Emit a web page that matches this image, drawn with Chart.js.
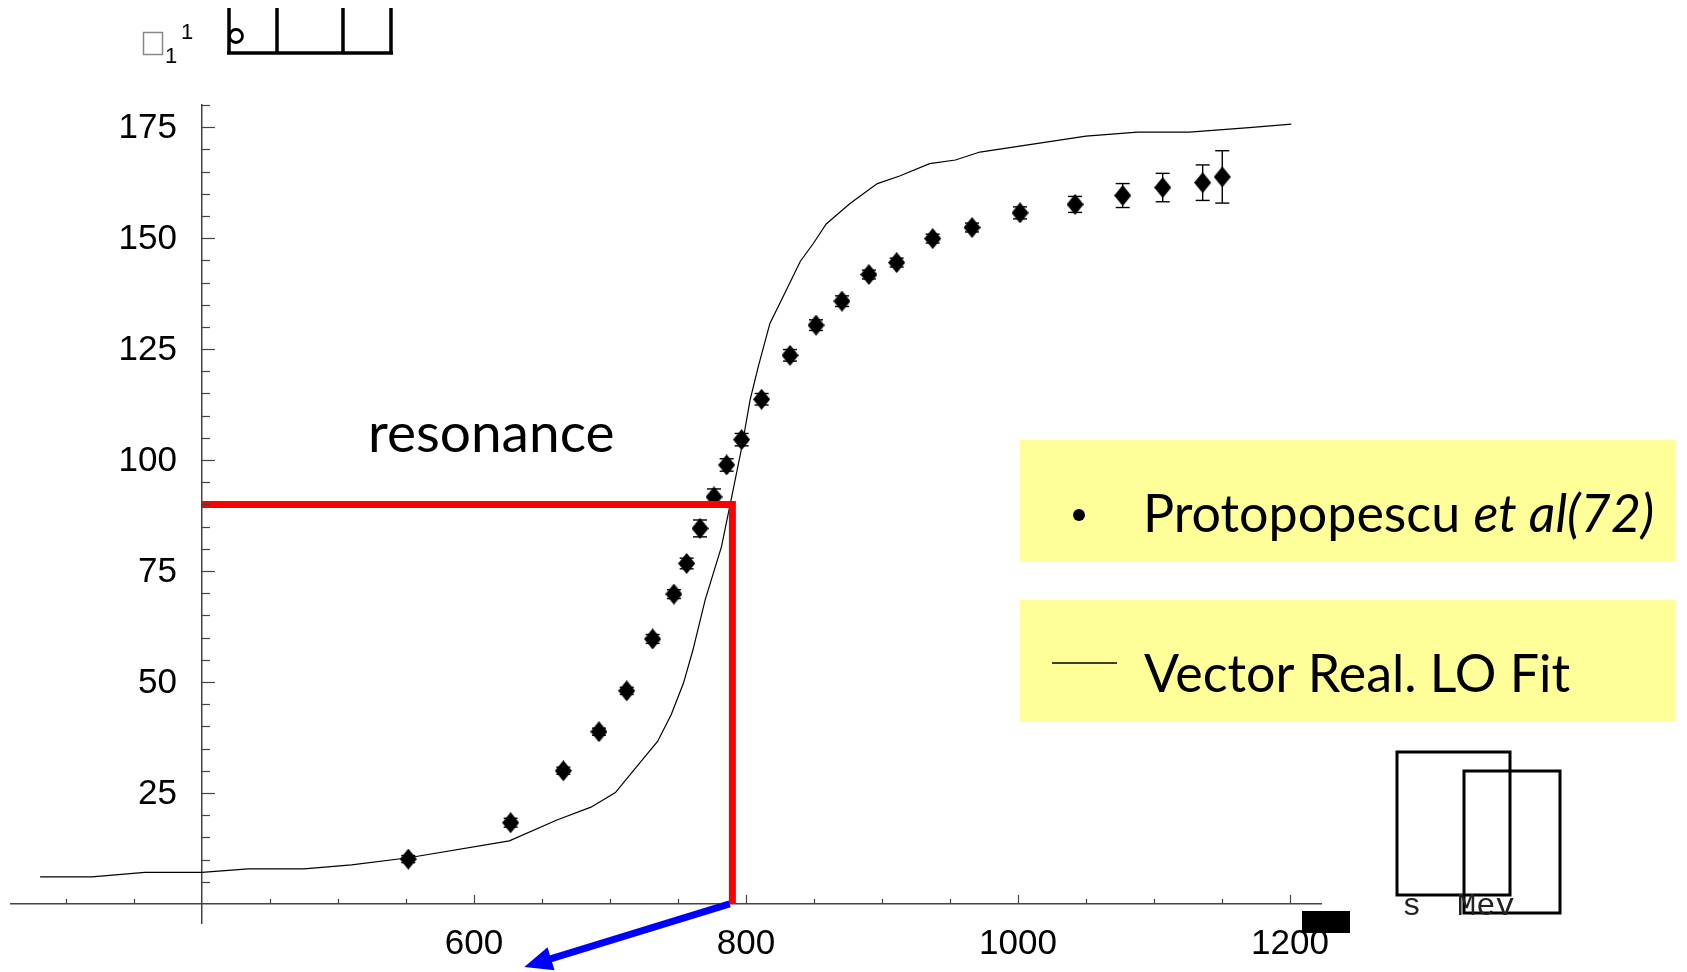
<!DOCTYPE html>
<html>
<head>
<meta charset="utf-8">
<script src="https://cdn.jsdelivr.net/npm/chart.js@4.4.1/dist/chart.umd.min.js"></script>
<style>
  html, body { margin: 0; padding: 0; background: #fff; }
  #wrap { position: relative; width: 1687px; height: 972px; overflow: hidden; }
</style>
</head>
<body>
<div id="wrap"><canvas id="phaseChart" width="1687" height="972"></canvas></div>
<script>
// measured points (Protopopescu et al 72)
const dataMass = [551.7, 627, 665.7, 691.9, 712.3, 731.4, 747, 756.4, 766.2, 776.5, 785.8, 796.8, 811.5,
  832.4, 851.5, 870.6, 890.4, 910.8, 937.3, 966.2, 1001.5, 1042, 1077, 1106.4, 1135.8, 1150.2];
const dataPhase = [10.1, 18.3, 30.0, 38.8, 48.0, 59.7, 69.8, 76.7, 84.6, 91.7, 98.9, 104.6, 113.7,
  123.6, 130.4, 135.8, 141.8, 144.5, 149.9, 152.4, 155.7, 157.6, 159.6, 161.4, 162.5, 163.8];
const dataError = [0.8, 1.0, 0.8, 0.8, 0.8, 1.0, 1.0, 1.2, 1.9, 1.8, 1.4, 1.4, 1.3,
  1.3, 1.2, 1.2, 1.0, 1.0, 1.0, 1.0, 1.35, 1.8, 2.7, 3.2, 4.0, 5.9];

// fit curve (Vector Real. LO Fit)
const fitMass = [281, 319, 358, 400, 434, 475, 510, 552, 626, 661, 686, 704, 718, 735, 745, 754, 761, 770,
  782, 789.5, 797, 803, 809, 817.6, 826, 840, 849.5, 859, 876.5, 896.6, 913, 935, 954, 972,
  1011, 1050, 1088, 1126, 1170, 1201];
const fitPhase = [6.1, 6.1, 7.1, 7.1, 7.9, 7.9, 8.8, 10.4, 14.2, 18.9, 21.8, 25.1, 30.3, 36.6, 42.6, 49.7, 57.2, 68.5,
  80.5, 91.7, 103, 113.5, 121, 130.8, 136, 144.8, 148.8, 153.2, 157.8, 162.3, 164, 166.8, 167.6, 169.4,
  171.2, 173, 173.9, 173.9, 174.9, 175.7];

// axes
const xLabelTicks = [600, 800, 1000, 1200];
const xMinorTicks = [300, 350, 450, 500, 550, 600, 650, 700, 750, 800, 850, 900, 950, 1000, 1050, 1100, 1150, 1200];
const yLabelTicks = [25, 50, 75, 100, 125, 150, 175];
const yMinorTicks = [5, 10, 15, 20, 25, 30, 35, 40, 45, 50, 55, 60, 65, 70, 75, 80, 85, 90, 95, 100,
  105, 110, 115, 120, 125, 130, 135, 140, 145, 150, 155, 160, 165, 170, 175, 180];

// annotations
const resonancePhase = 90;
const resonanceMass = 790;
const arrowFrom = [788, 0];
const arrowTo = [637, -14.2];

// diamond marker
const diamond = document.createElement('canvas');
diamond.width = 17;
diamond.height = 21;
const dctx = diamond.getContext('2d');
dctx.fillStyle = '#000';
dctx.beginPath();
dctx.moveTo(8.5, 0);
dctx.lineTo(17, 10.5);
dctx.lineTo(8.5, 21);
dctx.lineTo(0, 10.5);
dctx.closePath();
dctx.fill();

const tickFont = { family: 'Liberation Sans', size: 35 };

const line = (ctx, x1, y1, x2, y2) => {
  ctx.beginPath();
  ctx.moveTo(x1, y1);
  ctx.lineTo(x2, y2);
  ctx.stroke();
};

const errorBars = {
  id: 'errorBars',
  beforeDatasetsDraw(chart) {
    const { ctx, scales: { x, y } } = chart;
    ctx.save();
    ctx.strokeStyle = '#000';
    ctx.lineWidth = 1.4;
    dataMass.forEach((m, i) => {
      const px = x.getPixelForValue(m);
      const top = y.getPixelForValue(dataPhase[i] + dataError[i]);
      const bot = y.getPixelForValue(dataPhase[i] - dataError[i]);
      line(ctx, px, top, px, bot);
      line(ctx, px - 7, top, px + 7, top);
      line(ctx, px - 7, bot, px + 7, bot);
    });
    ctx.restore();
  }
};

// inward tick marks + y labels (axes cross at 400 / 0)
const axisTicks = {
  id: 'axisTicks',
  afterDraw(chart) {
    const { ctx, scales: { x, y } } = chart;
    const y0 = y.getPixelForValue(0);
    const x0 = x.getPixelForValue(400);
    ctx.save();
    ctx.strokeStyle = '#444';
    ctx.lineWidth = 1.2;
    xMinorTicks.forEach(v => {
      const px = Math.round(x.getPixelForValue(v)) + 0.5;
      const len = xLabelTicks.includes(v) ? 9 : 5;
      line(ctx, px, y0, px, y0 - len);
    });
    yMinorTicks.forEach(v => {
      const py = Math.round(y.getPixelForValue(v)) + 0.5;
      const len = yLabelTicks.includes(v) ? 13 : 8;
      line(ctx, x0, py, x0 + len, py);
    });
    ctx.fillStyle = '#000';
    ctx.font = `${tickFont.size}px "${tickFont.family}"`;
    ctx.textAlign = 'right';
    ctx.textBaseline = 'middle';
    yLabelTicks.forEach(v => {
      ctx.fillText(String(v), x0 - 25, y.getPixelForValue(v) + 1);
    });
    ctx.restore();
  }
};

const annotations = {
  id: 'annotations',
  afterDatasetsDraw(chart) {
    const { ctx, scales: { x, y } } = chart;
    ctx.save();
    // red lines
    ctx.strokeStyle = '#ff0000';
    ctx.lineWidth = 7;
    ctx.lineCap = 'butt';
    const ry = y.getPixelForValue(resonancePhase);
    const rx = x.getPixelForValue(resonanceMass);
    ctx.beginPath();
    ctx.moveTo(x.getPixelForValue(400), ry);
    ctx.lineTo(rx + 3.5, ry);
    ctx.moveTo(rx, ry);
    ctx.lineTo(rx, y.getPixelForValue(0));
    ctx.stroke();

    // blue arrow
    const ax1 = x.getPixelForValue(arrowFrom[0]), ay1 = y.getPixelForValue(arrowFrom[1]);
    const ax2 = x.getPixelForValue(arrowTo[0]), ay2 = y.getPixelForValue(arrowTo[1]);
    const ang = Math.atan2(ay2 - ay1, ax2 - ax1);
    const headLen = 28, headW = 12;
    const bx = ax2 - Math.cos(ang) * headLen, by = ay2 - Math.sin(ang) * headLen;
    ctx.strokeStyle = '#0000ff';
    ctx.fillStyle = '#0000ff';
    ctx.lineWidth = 7;
    line(ctx, ax1, ay1, bx + Math.cos(ang) * 4, by + Math.sin(ang) * 4);
    ctx.beginPath();
    ctx.moveTo(ax2, ay2);
    ctx.lineTo(bx + Math.sin(ang) * headW, by - Math.cos(ang) * headW);
    ctx.lineTo(bx - Math.sin(ang) * headW, by + Math.cos(ang) * headW);
    ctx.closePath();
    ctx.fill();
    ctx.restore();
  }
};

const decorations = {
  id: 'decorations',
  afterDraw(chart) {
    const { ctx } = chart;
    ctx.save();

    // "resonance"
    ctx.fillStyle = '#000';
    ctx.textBaseline = 'alphabetic';
    ctx.font = '55px Lato';
    ctx.fillText('resonance', 368, 452);

    // legend boxes
    ctx.fillStyle = '#ffff99';
    ctx.fillRect(1020, 440, 655, 121);
    ctx.fillRect(1020, 600, 655, 122);

    ctx.fillStyle = '#000';
    ctx.beginPath();
    ctx.arc(1079, 515, 6, 0, Math.PI * 2);
    ctx.fill();
    ctx.font = '52px Lato';
    const part1 = 'Protopopescu ';
    ctx.fillText(part1, 1143, 532);
    const w1 = ctx.measureText(part1).width;
    ctx.font = 'italic 52px Lato';
    ctx.fillText('et al(72)', 1143 + w1, 532);

    ctx.strokeStyle = '#000';
    ctx.lineWidth = 1.5;
    line(ctx, 1052, 663, 1117, 663);
    ctx.font = '52px Lato';
    ctx.fillText('Vector Real. LO Fit', 1144, 692);

    // top-left symbol glyphs
    ctx.strokeStyle = '#888';
    ctx.lineWidth = 1.5;
    ctx.strokeRect(143.5, 32.5, 19, 22);
    ctx.fillStyle = '#000';
    ctx.font = '22px "Liberation Sans"';
    ctx.fillText('1', 165, 63);
    ctx.fillText('1', 181, 39);
    ctx.strokeStyle = '#000';
    ctx.lineWidth = 3.5;
    ctx.beginPath();
    [229, 277, 343, 391].forEach(bx => {
      ctx.moveTo(bx, 8);
      ctx.lineTo(bx, 53);
    });
    ctx.moveTo(227, 53);
    ctx.lineTo(393, 53);
    ctx.stroke();
    ctx.lineWidth = 2.8;
    ctx.beginPath();
    ctx.arc(236, 36, 6.5, 0, Math.PI * 2);
    ctx.stroke();

    // bottom-right unit glyphs
    ctx.fillStyle = '#000';
    ctx.fillRect(1302, 911, 48, 22);
    ctx.lineWidth = 3;
    ctx.strokeRect(1397, 752, 113, 143);
    ctx.strokeRect(1464, 771, 96, 142);
    ctx.fillStyle = '#222';
    ctx.font = '32px "Liberation Mono"';
    ctx.fillText('s', 1402, 915);
    ctx.fillText('Mev', 1457, 915);
    ctx.restore();
  }
};

new Chart(document.getElementById('phaseChart'), {
  type: 'scatter',
  data: {
    datasets: [
      {
        label: 'Protopopescu et al(72)',
        data: dataMass.map((m, i) => ({ x: m, y: dataPhase[i] })),
        pointStyle: diamond,
        pointRadius: 10,
        showLine: false
      },
      {
        label: 'Vector Real. LO Fit',
        data: fitMass.map((m, i) => ({ x: m, y: fitPhase[i] })),
        showLine: true,
        borderColor: '#000',
        borderWidth: 1.2,
        pointRadius: 0,
        tension: 0
      }
    ]
  },
  options: {
    responsive: false,
    animation: false,
    layout: { padding: { left: 11, right: 366, top: 105, bottom: 49 } },
    plugins: { legend: { display: false }, tooltip: { enabled: false } },
    scales: {
      x: {
        type: 'linear',
        min: 259.6,
        max: 1222.8,
        position: { y: 0 },
        afterBuildTicks: axis => { axis.ticks = xLabelTicks.map(v => ({ value: v })); },
        ticks: { font: tickFont, color: '#000', padding: 19, maxRotation: 0, autoSkip: false, callback: v => String(v) },
        grid: { display: false, drawTicks: false },
        border: { display: true, color: '#444', width: 1.5 }
      },
      y: {
        type: 'linear',
        min: -4.3,
        max: 180,
        position: { x: 400 },
        afterBuildTicks: axis => { axis.ticks = yLabelTicks.map(v => ({ value: v })); },
        ticks: { display: false },
        grid: { display: false, drawTicks: false },
        border: { display: true, color: '#444', width: 1.5 }
      }
    }
  },
  plugins: [errorBars, annotations, axisTicks, decorations]
});
</script>
</body>
</html>
